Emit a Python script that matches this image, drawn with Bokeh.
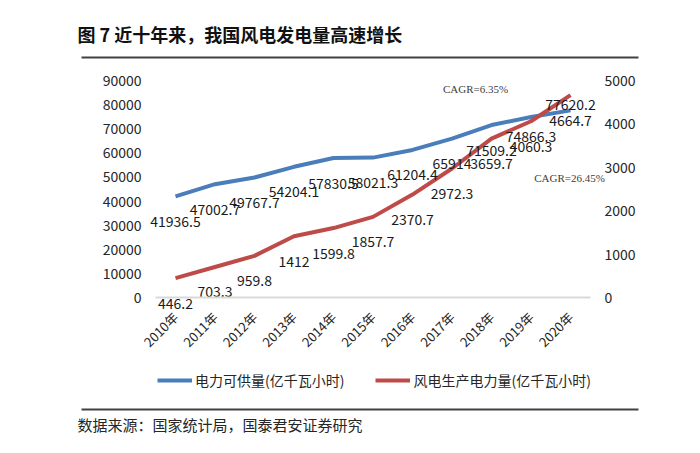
from math import pi
from bokeh.plotting import figure
from bokeh.models import (Range1d, LinearAxis, FixedTicker, Label,
                          Legend, LegendItem, BoxAnnotation, ColumnDataSource)
from bokeh.core.properties import value
from bokeh.embed import file_html
from bokeh.resources import INLINE

# ---------------- data ----------------
years = ["2010年", "2011年", "2012年", "2013年", "2014年", "2015年",
         "2016年", "2017年", "2018年", "2019年", "2020年"]
supply = [41936.5, 47002.7, 49767.7, 54204.1, 57830.5, 58021.3,
          61204.4, 65914.0, 71509.2, 74866.3, 77620.2]
wind = [446.2, 703.3, 959.8, 1412.0, 1599.8, 1857.7,
        2370.7, 2972.3, 3659.7, 4060.3, 4664.7]
left_ticks = [0, 10000, 20000, 30000, 40000, 50000, 60000, 70000, 80000, 90000]
right_ticks = [0, 1000, 2000, 3000, 4000, 5000]
series_names = ["电力可供量(亿千瓦小时)", "风电生产电力量(亿千瓦小时)"]
title_text = "图 7  近十年来，我国风电发电量高速增长"
source_text = "数据来源：国家统计局，国泰君安证券研究"
cagr_supply = "CAGR=6.35%"
cagr_wind = "CAGR=26.45%"

# label offsets (pixels below each point) -- style, not data
supply_label_dy = [25, 25, 25, 25, 25, 25, 25, 25, 25, 20, -6]
wind_label_dy = [25] * len(years)


def fmt(v):
    s = f"{v:.1f}"
    return s[:-2] if s.endswith(".0") else s


BLUE = "#4A7EBB"
RED = "#BE4B48"
FONT = "Noto Sans CJK SC"
TXT = "#262626"

# ---------------- geometry (page pixels) ----------------
W, H = 684, 437
X0, DX = 175.0, 39.5          # page x of first category, step
Y0, YTOP = 297.0, 80.0        # page y of value 0 and of left max
LMAX, RMAX = left_ticks[-1], right_ticks[-1]
ppu = (Y0 - YTOP) / LMAX      # pixels per left unit

idx = list(range(len(years)))
x_start, x_end = -X0 / DX, (W - X0) / DX
y_start, y_end = -(H - Y0) / ppu, Y0 / ppu
scale_r = RMAX / LMAX

p = figure(width=W, height=H, x_range=Range1d(x_start, x_end),
           y_range=Range1d(y_start, y_end), output_backend="svg",
           toolbar_location=None, min_border=0)
p.extra_y_ranges = {"r": Range1d(y_start * scale_r, y_end * scale_r)}
p.outline_line_color = None
p.background_fill_color = "white"
p.border_fill_color = "white"
p.xgrid.visible = False
p.ygrid.visible = False


def px_to_x(px):
    return (px - X0) / DX


# x axis at value 0, limited to the category band
xa = p.xaxis[0]
xa.fixed_location = 0
xa.bounds = (-0.5, len(years) - 0.5)
xa.ticker = FixedTicker(ticks=idx)
xa.major_label_overrides = {i: y for i, y in zip(idx, years)}
xa.axis_line_color = "#D9D9D9"
xa.axis_line_width = 2
xa.major_tick_line_color = None
xa.minor_tick_line_color = None
xa.major_label_orientation = pi / 4
xa.major_label_text_font = FONT
xa.major_label_text_font_size = "13px"
xa.major_label_text_color = TXT
xa.major_label_standoff = 11

ya = p.yaxis[0]
ya.fixed_location = px_to_x(157)
ya.ticker = FixedTicker(ticks=left_ticks)
ya.axis_line_color = None
ya.major_tick_line_color = None
ya.minor_tick_line_color = None
ya.major_label_text_font = FONT
ya.major_label_text_font_size = "14px"
ya.major_label_text_color = TXT
ya.major_label_standoff = 10

ra = LinearAxis(y_range_name="r", ticker=FixedTicker(ticks=right_ticks))
ra.fixed_location = px_to_x(588)
ra.axis_line_color = None
ra.major_tick_line_color = None
ra.minor_tick_line_color = None
ra.major_label_text_font = FONT
ra.major_label_text_font_size = "14px"
ra.major_label_text_color = TXT
ra.major_label_standoff = 10
p.add_layout(ra, "right")

src = ColumnDataSource(dict(x=idx, s=supply, w=wind,
                            sl=[fmt(v) for v in supply],
                            wl=[fmt(v) for v in wind],
                            sdy=supply_label_dy, wdy=wind_label_dy))

l1 = p.line("x", "s", source=src, line_color=BLUE, line_width=4)
l2 = p.line("x", "w", source=src, line_color=RED, line_width=4, y_range_name="r")

p.text("x", "s", text="sl", source=src, y_offset="sdy", text_align="center",
       text_baseline="middle", text_font=value(FONT), text_font_size="14px",
       text_color="#1a1a1a")
p.text("x", "w", text="wl", source=src, y_offset="wdy", text_align="center",
       text_baseline="middle", text_font=value(FONT), text_font_size="14px",
       text_color="#1a1a1a", y_range_name="r")


# annotations in screen units (frame == canvas, y measured up from bottom)
def sx(px):
    return px


def sy(py):
    return H - py


def lab(px, py, text, **kw):
    p.add_layout(Label(x=sx(px), y=sy(py), x_units="screen", y_units="screen",
                       text=text, text_baseline="middle", **kw))


lab(475, 88, cagr_supply, text_align="center", text_font="Liberation Serif",
    text_font_size="11px", text_color="#404040")
lab(569, 177, cagr_wind, text_align="center", text_font="Liberation Serif",
    text_font_size="11px", text_color="#404040")
lab(77, 33, title_text, text_align="left", text_font=FONT,
    text_font_size="18px", text_font_style="bold", text_color="#111111")
lab(77, 424, source_text, text_align="left", text_font=FONT,
    text_font_size="15px", text_color=TXT)

for yy in (57, 409):
    p.add_layout(BoxAnnotation(left=sx(81), right=sx(638), top=sy(yy - 1),
                               bottom=sy(yy + 1), left_units="screen",
                               right_units="screen", top_units="screen",
                               bottom_units="screen", fill_color="#404040",
                               fill_alpha=1, line_color=None, level="overlay"))

legend = Legend(items=[LegendItem(label=series_names[0], renderers=[l1]),
                       LegendItem(label=series_names[1], renderers=[l2])],
                orientation="horizontal", location=(sx(157), sy(390)),
                glyph_width=35, glyph_height=20, label_standoff=3, spacing=31,
                padding=0, margin=0, border_line_color=None,
                background_fill_alpha=0, label_text_font=FONT,
                label_text_font_size="14px", label_text_color=TXT)
p.add_layout(legend, "center")

open("out.html", "w").write(file_html(p, INLINE))
